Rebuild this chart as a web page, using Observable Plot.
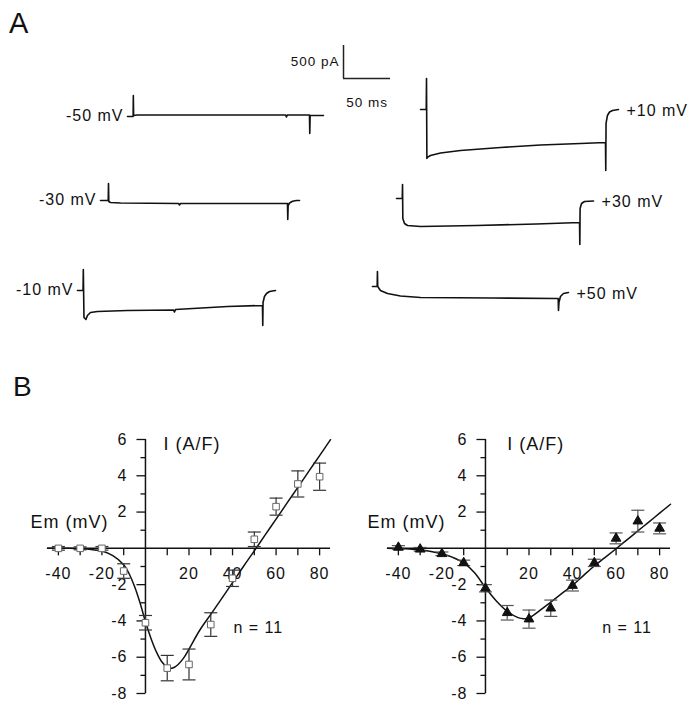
<!DOCTYPE html>
<html><head><meta charset="utf-8">
<script src="https://cdn.jsdelivr.net/npm/d3@7"></script>
<script src="https://cdn.jsdelivr.net/npm/@observablehq/plot@0.6"></script>
<style>
body{margin:0;background:#fff;}
#fig{position:relative;width:692px;height:719px;background:#fff;font-family:"Liberation Sans",Arial,sans-serif;overflow:hidden;}
#fig svg{position:absolute;overflow:visible;background:transparent;}
#fig svg text{letter-spacing:1px;}
.panel{position:absolute;font-size:29px;line-height:1;color:#111;}
</style></head><body><div id="fig"></div>
<script>
// ---------- Panel A: current traces (time in ms from start of record, current in pA relative to holding) ----------
const traceLabels = ["-50 mV", "-30 mV", "-10 mV", "+10 mV", "+30 mV", "+50 mV"];

const t_m50 = [0, 4.3, 6.0, 6.2, 6.5, 10.6, 168.1, 169.1, 170.2, 193.6, 193.9, 194.3, 208.5];
const i_m50 = [0, 0, 0, 318, 15, 23, 23, -8, 23, 23, -258, 15, 15];

const t_m30 = [0, 4.3, 8.2, 8.5, 8.8, 10.6, 21.3, 83, 84, 85.1, 198.9, 199.2, 199.6, 201.1, 204.3, 208.5, 211.7];
const i_m30 = [0, 0, 0, 258, -15, -30, -38, -45, -68, -45, -45, -288, -76, -38, -12, 0, 0];

const t_m10 = [0, 3.2, 5.9, 6.2, 6.9, 9.0, 10.6, 13.8, 21.3, 53.2, 102.1, 103.2, 104.3, 159.6, 196.8, 197.1, 197.4, 198.9, 201.1, 204.3, 210.6];
const i_m10 = [0, 0, 0, 318, -409, -439, -379, -333, -318, -303, -295, -326, -288, -242, -227, -530, -182, -91, -45, -15, 0];

const t_p10 = [0, 3.2, 6.1, 6.4, 6.8, 7.4, 10.6, 21.3, 42.6, 85.1, 127.7, 170.2, 196.8, 197.1, 197.4, 198.9, 201.1, 204.3, 210.6];
const i_p10 = [0, 0, 0, 470, -742, -727, -697, -659, -621, -576, -538, -515, -500, -924, -212, -91, -38, -15, 0];

const t_p30 = [0, 3.2, 6.1, 6.4, 6.7, 8.5, 11.7, 25.5, 85.1, 148.9, 194.7, 195.0, 195.3, 196.8, 200, 209.6];
const i_p30 = [0, 0, 0, 212, -303, -379, -409, -424, -409, -386, -364, -697, -152, -76, -45, -38];

const t_p50 = [0, 3.2, 5.0, 5.3, 5.6, 8.5, 16, 29.8, 51.1, 127.7, 194.7, 197.6, 197.9, 198.4, 200, 203.2, 208.5];
const i_p50 = [0, 0, 0, 227, 0, -61, -106, -144, -167, -174, -182, -183, -364, -242, -152, -106, -91];

const scaleBarPA = 500;
const scaleBarMs = 50;

// layout of the traces on the panel (record start in ms, holding level in pA, label side)
const traceStartMs = [135.1, 106.4, 81.9, 446.8, 421.3, 395.7];
const traceBasePA = [-1757, -3030, -4394, -1651, -3000, -4333];
const traceSide = ["left", "left", "left", "right", "right", "right"];
const scaleBarCorner = {t: 364.9, i: -1182};

// ---------- Panel B: I-V relations ----------
const ivVoltages = [-40, -30, -20, -10, 0, 10, 20, 30, 40, 50, 60, 70, 80];
const ivMeanLeft = [0, 0, 0, -1.25, -4.1, -6.6, -6.4, -4.2, -1.65, 0.5, 2.3, 3.55, 3.95];
const ivErrLeft = [0.1, 0.08, 0.1, 0.4, 0.4, 0.7, 0.85, 0.65, 0.45, 0.4, 0.47, 0.72, 0.75];
const ivMeanRight = [0.05, -0.05, -0.3, -0.8, -2.2, -3.55, -3.9, -3.3, -2.05, -0.8, 0.55, 1.5, 1.1];
const ivErrRight = [0.1, 0.1, 0.1, 0.15, 0.2, 0.4, 0.5, 0.45, 0.3, 0.2, 0.3, 0.6, 0.3];

const fitVLeft = [-45, -40, -35, -30, -25, -20, -15, -10, -7.5, -5, -2.5, 0, 2.5, 5, 7.5, 10, 12.5, 15, 17.5, 20, 25, 30, 35, 40, 45, 50, 55, 60, 65, 70, 75, 80, 85];
const fitILeft = [0, 0, 0, -0.02, -0.06, -0.15, -0.4, -0.9, -1.4, -2.1, -3.0, -4.05, -4.95, -5.7, -6.25, -6.55, -6.6, -6.4, -6.05, -5.55, -4.5, -3.64, -2.77, -1.89, -1.0, -0.14, 0.74, 1.61, 2.49, 3.36, 4.24, 5.11, 5.99];

const fitVRight = [-45, -40, -35, -30, -25, -20, -15, -10, -5, 0, 5, 10, 15, 17.5, 20, 25, 30, 35, 40, 45, 50, 55, 60, 65, 70, 75, 80, 85];
const fitIRight = [0, -0.01, -0.03, -0.08, -0.17, -0.3, -0.5, -0.8, -1.35, -2.17, -2.9, -3.47, -3.82, -3.88, -3.83, -3.42, -2.96, -2.5, -2.04, -1.5, -0.97, -0.5, -0.02, 0.47, 0.96, 1.45, 1.94, 2.43];

const xTickValues = [-40, -30, -20, -10, 10, 20, 30, 40, 50, 60, 70, 80];
const xLabelValues = [-40, -20, 20, 40, 60, 80];
const yMajorTicks = [-8, -6, -4, -2, 2, 4, 6];
const yMinorTicks = [-7, -5, -3, -1, 1, 3, 5];
const yLabelValues = [-8, -6, -4, -2, 2, 4, 6];

const emLabel = "Em (mV)";
const iLabel = "I (A/F)";
const nLabel = "n = 11";
const labelPosLeft = {em: {x: -17, y: 1.42}, i: {x: 8.3, y: 5.75}, n: {x: 40.4, y: -4.39}};
const labelPosRight = {em: {x: -18.4, y: 1.42}, i: {x: 10, y: 5.75}, n: {x: 53.6, y: -4.39}};

// ---------- drawing ----------
const fig = document.getElementById("fig");
const ink = "#111";
const font = "Liberation Sans, Arial, sans-serif";

const traces = [[t_m50, i_m50], [t_m30, i_m30], [t_m10, i_m10], [t_p10, i_p10], [t_p30, i_p30], [t_p50, i_p50]];
const rowsA = traces.flatMap(([ts, is], k) => ts.map((t, j) => ({k, t: traceStartMs[k] + t, i: traceBasePA[k] + is[j]})));
const labelsA = traces.map(([ts, is], k) => {
  const j = traceSide[k] === "left" ? 0 : ts.length - 1;
  return {label: traceLabels[k], side: traceSide[k], t: traceStartMs[k] + ts[j], i: traceBasePA[k] + is[j]};
});

const svgA = Plot.plot({
  width: 692, height: 330, margin: 0,
  x: {domain: [0, 692 / 0.94], axis: null},
  y: {domain: [-5000, 0], axis: null},
  style: {fontFamily: font, background: "transparent", overflow: "visible"},
  marks: [
    Plot.line(rowsA, {x: "t", y: "i", z: "k", stroke: ink, strokeWidth: 1.6, curve: "linear"}),
    Plot.text(labelsA.filter(d => d.side === "left"), {x: "t", y: "i", text: "label", textAnchor: "end", dx: -4, dy: -1, fontSize: 16, fill: ink}),
    Plot.text(labelsA.filter(d => d.side === "right"), {x: "t", y: "i", text: "label", textAnchor: "start", dx: 8, dy: 1, fontSize: 16, fill: ink}),
    Plot.ruleX([scaleBarCorner], {x: "t", y1: d => d.i, y2: d => d.i + scaleBarPA, stroke: "#222", strokeWidth: 1.5}),
    Plot.ruleY([scaleBarCorner], {y: "i", x1: d => d.t, x2: d => d.t + scaleBarMs, stroke: "#222", strokeWidth: 1.5}),
    Plot.text([scaleBarCorner], {x: "t", y: d => d.i + scaleBarPA / 2, text: () => scaleBarPA + " pA", textAnchor: "end", dx: -4, fontSize: 13.5, fill: ink}),
    Plot.text([scaleBarCorner], {x: d => d.t + scaleBarMs / 2, y: "i", text: () => scaleBarMs + " ms", dy: 24, fontSize: 13.5, fill: ink})
  ]
});
svgA.style.left = "0px"; svgA.style.top = "0px";
fig.appendChild(svgA);

const tickDown = {draw(ctx, size) { const l = Math.sqrt(size / Math.PI); ctx.moveTo(0, 0); ctx.lineTo(0, l); }};
const tickLeft = {draw(ctx, size) { const l = Math.sqrt(size / Math.PI); ctx.moveTo(-l, 0); ctx.lineTo(0, 0); }};
const capH = {draw(ctx, size) { const l = Math.sqrt(size / Math.PI); ctx.moveTo(-l, 0); ctx.lineTo(l, 0); }};

function ivPlot(means, errs, fitV, fitI, marker, pos) {
  const pts = ivVoltages.map((v, j) => ({v, m: means[j], lo: means[j] - errs[j], hi: means[j] + errs[j]}));
  const fit = fitV.map((v, j) => ({v, i: fitI[j]}));
  return Plot.plot({
    width: 346, height: 319, marginLeft: 47, marginRight: 16, marginTop: 39, marginBottom: 26,
    x: {domain: [-45, 85], axis: null},
    y: {domain: [-8, 6], axis: null},
    style: {fontFamily: font, background: "transparent", overflow: "visible"},
    marks: [
      Plot.ruleY([0], {stroke: ink, strokeWidth: 1.5}),
      Plot.ruleX([0], {y1: -8, y2: 6, stroke: ink, strokeWidth: 1.5}),
      Plot.dot(xTickValues, {x: d => d, y: 0, symbol: tickDown, r: 7, stroke: ink, strokeWidth: 1.3, fill: "none"}),
      Plot.dot(yMajorTicks, {x: 0, y: d => d, symbol: tickLeft, r: 9, stroke: ink, strokeWidth: 1.3, fill: "none"}),
      Plot.dot(yMinorTicks, {x: 0, y: d => d, symbol: tickLeft, r: 5, stroke: ink, strokeWidth: 1.3, fill: "none"}),
      Plot.text(xLabelValues, {x: d => d, y: 0, text: d => String(d), dy: 26, fontSize: 16, fill: ink}),
      Plot.text(yLabelValues, {x: 0, y: d => d, text: d => String(d), textAnchor: "end", dx: -18, fontSize: 16, fill: ink}),
      Plot.line(fit, {x: "v", y: "i", curve: "catmull-rom", stroke: ink, strokeWidth: 1.5}),
      Plot.ruleX(pts, {x: "v", y1: "lo", y2: "hi", stroke: marker.bar, strokeWidth: 1.2}),
      Plot.dot(pts, {x: "v", y: "hi", symbol: capH, r: 6.5, stroke: marker.bar, strokeWidth: 1.2, fill: "none"}),
      Plot.dot(pts, {x: "v", y: "lo", symbol: capH, r: 6.5, stroke: marker.bar, strokeWidth: 1.2, fill: "none"}),
      Plot.dot(pts, {x: "v", y: "m", symbol: marker.symbol, r: marker.r, fill: marker.fill, stroke: marker.stroke, strokeWidth: 1}),
      Plot.text([pos.em], {x: "x", y: "y", text: () => emLabel, textAnchor: "end", fontSize: 18, fill: ink}),
      Plot.text([pos.i], {x: "x", y: "y", text: () => iLabel, textAnchor: "start", fontSize: 18, fill: ink}),
      Plot.text([pos.n], {x: "x", y: "y", text: () => nLabel, textAnchor: "start", fontSize: 16, fill: ink})
    ]
  });
}

const svgB1 = ivPlot(ivMeanLeft, ivErrLeft, fitVLeft, fitILeft,
  {symbol: "square", r: 3.7, fill: "white", stroke: "#666", bar: "#333"}, labelPosLeft);
svgB1.style.left = "0px"; svgB1.style.top = "400px";
fig.appendChild(svgB1);

const svgB2 = ivPlot(ivMeanRight, ivErrRight, fitVRight, fitIRight,
  {symbol: "triangle", r: 3.6, fill: "#111", stroke: "#111", bar: "#555"}, labelPosRight);
svgB2.style.left = "340px"; svgB2.style.top = "400px";
fig.appendChild(svgB2);

const pA = document.createElement("div");
pA.className = "panel"; pA.textContent = "A";
pA.style.left = "9px"; pA.style.top = "8.5px";
fig.appendChild(pA);
const pB = document.createElement("div");
pB.className = "panel"; pB.textContent = "B"; pB.style.fontSize = "28px";
pB.style.left = "13px"; pB.style.top = "373px";
fig.appendChild(pB);
</script>
</body></html>
